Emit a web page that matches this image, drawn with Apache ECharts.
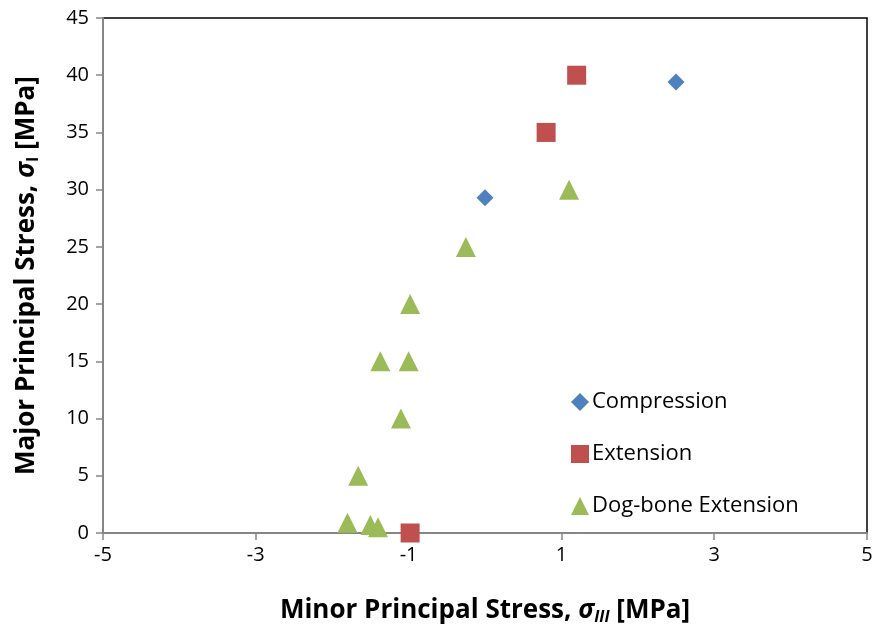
<!DOCTYPE html>
<html>
<head>
<meta charset="utf-8">
<script src="https://cdn.jsdelivr.net/npm/echarts@6/dist/echarts.min.js"></script>
<style>
  html, body { margin: 0; padding: 0; background: #fff; }
  #chart { width: 877px; height: 633px; }
</style>
</head>
<body>
<div id="chart"></div>
<script>
// Principal stress pairs [minor σIII, major σI] in MPa
const compression = [[0.0, 29.3], [2.5, 39.4]];
const extension = [[1.2, 40.0], [0.8, 35.0], [-0.98, 0.0]];
const dogBoneExtension = [
  [1.1, 30.0], [-0.25, 25.0], [-0.98, 20.0], [-1.37, 15.0], [-1.0, 15.0],
  [-1.1, 10.0], [-1.66, 5.0], [-1.8, 0.9], [-1.5, 0.7], [-1.4, 0.5]
];
const xTicks = [-5, -3, -1, 1, 3, 5];
const yTicks = [0, 5, 10, 15, 20, 25, 30, 35, 40, 45];

const FONT = '"Open Sans", "Liberation Sans", sans-serif';
const TITLE_SIZE = 26;
const chart = echarts.init(document.getElementById('chart'));

function titleRich(italicSub) {
  return {
    t: { fontSize: TITLE_SIZE, fontWeight: 'bold', fontFamily: FONT, color: '#000' },
    s: { fontSize: TITLE_SIZE, fontWeight: 'bold', fontStyle: 'italic', fontFamily: FONT, color: '#000' },
    sub: {
      fontSize: 16, fontWeight: 'bold', fontStyle: italicSub ? 'italic' : 'normal',
      fontFamily: FONT, color: '#000', verticalAlign: 'bottom', padding: [12, 0, 0, 0]
    }
  };
}

chart.setOption({
  animation: false,
  backgroundColor: '#fff',
  grid: {
    left: 103, right: 10, top: 18, bottom: 100,
    show: true, borderColor: '#000', borderWidth: 1.5
  },
  xAxis: {
    type: 'value', min: -5, max: 5,
    axisLine: { show: true, onZero: false, lineStyle: { color: '#868686', width: 2 } },
    axisTick: { show: true, customValues: xTicks, length: 7, lineStyle: { color: '#868686', width: 1.5 } },
    axisLabel: { customValues: xTicks, color: '#000', fontSize: 20, fontFamily: FONT, margin: 12 },
    splitLine: { show: false },
    name: '{t|Minor Principal Stress, }{s|σ}{sub|III}{t| [MPa]}',
    nameLocation: 'middle', nameGap: 64,
    nameTextStyle: { rich: titleRich(true) }
  },
  yAxis: {
    type: 'value', min: 0, max: 45, interval: 5,
    axisLine: { show: true, onZero: false, lineStyle: { color: '#868686', width: 2 } },
    axisTick: { show: true, length: 7, lineStyle: { color: '#868686', width: 1.5 } },
    axisLabel: {
      color: '#000', fontSize: 20, fontFamily: FONT, margin: 14,
      formatter: v => yTicks.includes(v) ? String(v) : ''
    },
    splitLine: { show: false },
    name: '{t|Major Principal Stress, }{s|σ}{sub|I}{t| [MPa]}',
    nameLocation: 'middle', nameGap: 62, nameRotate: 90,
    nameTextStyle: { rich: titleRich(false) }
  },
  legend: {
    orient: 'vertical', left: 566, top: 386, itemGap: 30,
    itemWidth: 18, itemHeight: 18,
    textStyle: { fontSize: 22, fontFamily: FONT, color: '#000', padding: [0, 0, 0, -2] },
    data: [
      { name: 'Compression', icon: 'diamond' },
      { name: 'Extension', icon: 'rect' },
      { name: 'Dog-bone Extension', icon: 'triangle' }
    ]
  },
  series: [
    {
      name: 'Compression', type: 'scatter', data: compression,
      symbol: 'diamond', symbolSize: 17,
      itemStyle: { color: '#4F81BD', opacity: 1 }
    },
    {
      name: 'Extension', type: 'scatter', data: extension,
      symbol: 'rect', symbolSize: 19,
      itemStyle: { color: '#C0504D', opacity: 1 }
    },
    {
      name: 'Dog-bone Extension', type: 'scatter', data: dogBoneExtension,
      symbol: 'triangle', symbolSize: 20,
      itemStyle: { color: '#9BBB59', opacity: 1 }
    }
  ]
});
</script>
</body>
</html>
